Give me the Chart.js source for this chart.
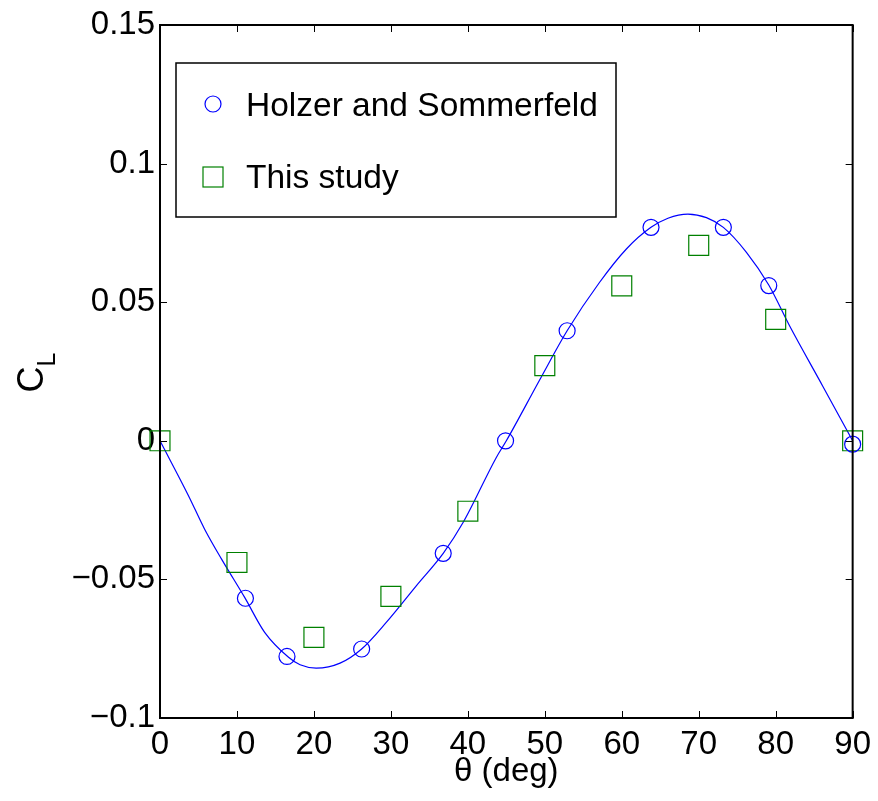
<!DOCTYPE html>
<html>
<head>
<meta charset="utf-8">
<script src="https://cdn.jsdelivr.net/npm/chart.js@4"></script>
<style>
  body { margin: 0; background: #fff; }
  canvas { display: block; }
</style>
</head>
<body>
<canvas id="cl_chart" width="878" height="801"></canvas>
<script>
// Holzer and Sommerfeld (circles)
var holzerTheta = [11.1, 16.5, 26.2, 36.8, 44.9, 52.9, 63.8, 73.2, 79.1, 90.0];
var holzerCL = [-0.0568, -0.0778, -0.0751, -0.0406, 0.0, 0.0397, 0.0770, 0.0770, 0.0560, -0.0012];
// This study (squares)
var studyTheta = [0, 10, 20, 30, 40, 50, 60, 70, 80, 90];
var studyCL = [0.0, -0.0439, -0.0709, -0.0561, -0.0254, 0.0271, 0.0559, 0.0705, 0.0438, 0.0];
// fitted curve
var fitTheta = [0, 3.7, 5.8, 8, 11, 13.6, 16.7, 18.2, 20.3, 23.4, 26.2, 29.4, 33.3, 36.8, 39.4, 43.7, 45, 49.4, 52.9, 57.1, 60.6, 63.8, 66, 68.6, 71, 73.2, 76.2, 79.1, 81.8, 86.1, 90];
var fitCL = [0, -0.0198, -0.0319, -0.0427, -0.0565, -0.0691, -0.0781, -0.0808, -0.0820, -0.0802, -0.0751, -0.0655, -0.0523, -0.0406, -0.0294, -0.006, 0, 0.0223, 0.0397, 0.0571, 0.0692, 0.0770, 0.0803, 0.0818, 0.0805, 0.0770, 0.0680, 0.0562, 0.0415, 0.0198, 0];

var xTicks = [0, 10, 20, 30, 40, 50, 60, 70, 80, 90];
var xTickLabels = ["0", "10", "20", "30", "40", "50", "60", "70", "80", "90"];
var yTicks = [-0.1, -0.05, 0, 0.05, 0.1, 0.15];
var yTickLabels = ["\u22120.1", "\u22120.05", "0", "0.05", "0.1", "0.15"];

var FONT = "Liberation Sans, Arial, Helvetica, sans-serif";

function pts(xs, ys) {
    var out = [];
    xs.forEach(function(x, i) { out.push({x: x, y: ys[i]}); });
    return out;
}

var decor = {
    id: "decor",
    afterDatasetsDraw: function(chart) {
        var ctx = chart.ctx, a = chart.chartArea;
        var sx = chart.scales.x, sy = chart.scales.y;
        ctx.save();
        ctx.strokeStyle = "#000";
        ctx.lineWidth = 1;
        ctx.beginPath();
        xTicks.forEach(function(v) {
            var px = Math.round(sx.getPixelForValue(v)) + 0.5;
            ctx.moveTo(px, a.bottom); ctx.lineTo(px, a.bottom - 7);
            ctx.moveTo(px, a.top); ctx.lineTo(px, a.top + 7);
        });
        yTicks.forEach(function(v) {
            var py = Math.round(sy.getPixelForValue(v)) + 0.5;
            ctx.moveTo(a.left, py); ctx.lineTo(a.left + 7, py);
            ctx.moveTo(a.right, py); ctx.lineTo(a.right - 7, py);
        });
        ctx.stroke();
        ctx.lineWidth = 2;
        ctx.strokeRect(a.left, a.top, a.right - a.left, a.bottom - a.top);
        ctx.restore();
    },
    afterDraw: function(chart) {
        var ctx = chart.ctx, a = chart.chartArea;
        ctx.save();
        // legend
        ctx.fillStyle = "#fff";
        ctx.fillRect(176, 63, 440, 154);
        ctx.strokeStyle = "#000";
        ctx.lineWidth = 1.5;
        ctx.strokeRect(176, 63, 440, 154);
        ctx.lineWidth = 1.2;
        ctx.strokeStyle = "#0000ff";
        ctx.beginPath(); ctx.arc(213, 104, 8, 0, Math.PI * 2); ctx.stroke();
        ctx.strokeStyle = "#008000";
        ctx.strokeRect(203, 167, 20, 20);
        ctx.fillStyle = "#000";
        ctx.font = "33.5px " + FONT;
        ctx.textAlign = "left";
        ctx.textBaseline = "alphabetic";
        ctx.fillText(chart.data.datasets[0].label, 246, 116);
        ctx.fillText(chart.data.datasets[1].label, 246, 188);
        // x title
        ctx.font = "33px " + FONT;
        ctx.textAlign = "center";
        ctx.fillText("\u03b8 (deg)", (a.left + a.right) / 2, 781);
        // y title C_L
        ctx.translate(43, 392.5);
        ctx.rotate(-Math.PI / 2);
        ctx.textAlign = "left";
        ctx.font = "36px " + FONT;
        ctx.fillText("C", 0, 0);
        var w = ctx.measureText("C").width;
        ctx.font = "25px " + FONT;
        ctx.fillText("L", w, 12);
        ctx.restore();
    }
};

var ctx = document.getElementById("cl_chart");
var chart = new Chart(ctx, {
    type: "scatter",
    data: {
        datasets: [
            {
                label: "Holzer and Sommerfeld",
                data: pts(holzerTheta, holzerCL),
                pointStyle: "circle",
                pointRadius: 8,
                pointBorderWidth: 1.2,
                borderColor: "#0000ff",
                backgroundColor: "rgba(0,0,0,0)",
                showLine: false,
                clip: false
            },
            {
                label: "This study",
                data: pts(studyTheta, studyCL),
                pointStyle: "rect",
                pointRadius: 14.1,
                pointBorderWidth: 1.2,
                borderColor: "#008000",
                backgroundColor: "rgba(0,0,0,0)",
                showLine: false,
                clip: false
            },
            {
                label: "fit",
                data: pts(fitTheta, fitCL),
                showLine: true,
                pointRadius: 0,
                borderColor: "#0000ff",
                borderWidth: 1.2,
                cubicInterpolationMode: "monotone",
                fill: false,
                clip: false
            }
        ]
    },
    options: {
        responsive: false,
        devicePixelRatio: 1,
        animation: false,
        layout: { padding: { top: 25, right: 25, left: 0, bottom: 0 } },
        plugins: { legend: { display: false }, tooltip: { enabled: false } },
        scales: {
            x: {
                type: "linear",
                min: 0, max: 90,
                grid: { display: false, drawTicks: false },
                border: { display: false },
                afterBuildTicks: function(s) { s.ticks = xTicks.map(function(v) { return {value: v}; }); },
                afterFit: function(s) { s.height = 83; },
                ticks: {
                    padding: 7,
                    color: "#000",
                    font: { family: FONT, size: 33 },
                    maxRotation: 0,
                    callback: function(v, i) { return xTickLabels[i]; }
                }
            },
            y: {
                type: "linear",
                min: -0.1, max: 0.15,
                grid: { display: false, drawTicks: false },
                border: { display: false },
                afterBuildTicks: function(s) { s.ticks = yTicks.map(function(v) { return {value: v}; }); },
                afterFit: function(s) { s.width = 160; },
                ticks: {
                    padding: 5,
                    color: "#000",
                    font: { family: FONT, size: 33 },
                    callback: function(v, i) { return yTickLabels[i]; }
                }
            }
        }
    },
    plugins: [decor]
});
</script>
</body>
</html>
